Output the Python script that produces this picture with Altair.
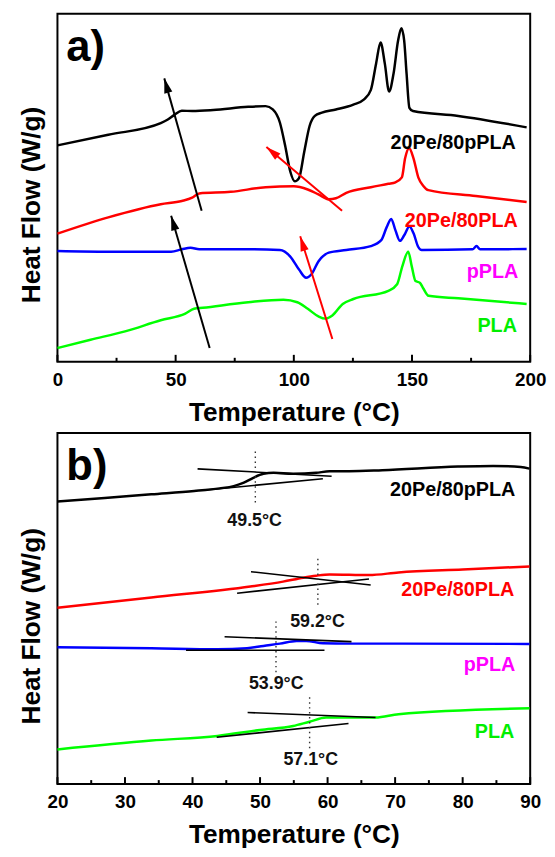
import math
import altair as alt
import pandas as pd

W = 478
HA = 352
HB = 355
FONT = "Liberation Sans"

# ---------------- Panel a: full DSC curves (0-200 C) ----------------
a_t_black = [0, 21.5, 43.7, 46.7, 49.6, 52.6, 57, 65.9, 80.7, 88.1, 91.1, 94.1, 96.3, 98.5, 100.4,
             102.2, 104.4, 106.7, 108.9, 111.9, 117.8, 125.2, 129.6, 132.6, 134.8, 136.7, 138.5,
             140.3, 142.2, 144.1, 145.5, 146.7, 147.7, 148.9, 150.4, 169.6, 198.5]
a_h_black = [220.7, 231.5, 243.3, 247, 252, 256, 255.7, 256.7, 260, 260.7, 257.3, 244, 220.7, 194, 184,
             187.3, 214, 240.7, 250.7, 254, 257.3, 262.3, 267.3, 277.3, 304, 325.7, 304,
             275.7, 294, 327.3, 340, 327.3, 294, 259, 255.7, 250.7, 239]

a_t_red = [0, 21.5, 43.7, 52.6, 57, 60, 73.3, 88.1, 100, 105.9, 110.4, 114.8, 117.8, 122.2, 132.6,
           140, 143, 145.7, 147.1, 148.8, 150.6, 152.7, 154.8, 156.9, 177, 198.5]
a_h_red = [130.7, 147.3, 160.7, 164, 167.3, 171.7, 173.3, 178, 179, 175.7, 170.7, 165.7, 166.7, 172.3, 178,
           181.5, 183, 188, 207.7, 217.7, 207.7, 187.7, 179.3, 175, 169, 163]

a_t_blue = [0, 21.5, 48.1, 52.6, 56.3, 60, 80.7, 94.1, 98.5, 102.2, 105.2, 107.4, 110.4, 114.8, 122.2,
            132.6, 137, 139.3, 141.2, 143, 144.9, 146.7, 148.9, 150.7, 152.6, 154.1, 175.6, 177.3,
            178.8, 198.5]
a_h_blue = [113, 112.3, 112.3, 114.7, 116.3, 114.7, 114.7, 114, 107.3, 94, 85.7, 89, 102.3, 111.3, 114,
            118, 124, 137.3, 145.7, 134, 123.3, 129, 138, 130.7, 117.3, 114, 114.7, 118,
            114.7, 115]

a_t_green = [0, 14, 28.6, 43.7, 54.1, 57.8, 61.5, 80.7, 95.6, 101.5, 105.9, 110.4, 113.3, 116.3, 120.7,
             125.2, 140, 143.7, 145.9, 148.4, 149.9, 151.5, 153.3, 154.8, 157, 169.6, 198.5]
a_h_green = [14, 22.5, 31, 42.3, 49, 54, 55, 60.7, 63.3, 60.7, 54, 46.3, 44, 47.3, 59,
             64, 72.3, 79, 97.3, 112.3, 97.3, 82.3, 80.7, 74.7, 67.3, 64.7, 59]

# arrows (tail T, tail h, head T, head h, colour)
arrow_t0 = [61.0, 64.4, 120.4, 116.3]
arrow_h0 = [154, 14, 154, 23.3]
arrow_t1 = [45.2, 48.1, 88.4, 102.7]
arrow_h1 = [289, 149, 219, 128]
arrow_col = ["#000000", "#000000", "#ff0000", "#ff0000"]

a_lab_text = ["20Pe/80pPLA", "20Pe/80PLA", "pPLA", "PLA"]
a_lab_t = [193.9, 194.8, 195.0, 194.4]
a_lab_h = [216.7, 137, 85.5, 30.5]
lab_col = ["#000000", "#ff0000", "#ff00ff", "#00ee00"]

a_major = [0, 50, 100, 150, 200]
a_minor = [25, 75, 125, 175]

# ---------------- Panel b: Tg region (20-90 C) ----------------
b_t_black = [20, 27, 33.9, 40.25, 44, 46.1, 47.6, 49, 50.5, 52, 54.9, 58.3, 60.3, 63.2, 68.1, 79.3, 84.5, 88.6, 89.9]
b_h_black = [285.7, 289.3, 293, 296.3, 299, 301.3, 304.7, 309.7, 313.7, 314.7, 313.7, 314.7, 316.3, 316.3, 317.3, 321, 321.7, 320.7, 319]

b_t_red = [20, 33.9, 48.56, 53.4, 56.4, 58.3, 60.3, 66.1, 70.5, 80, 89.9]
b_h_red = [178.3, 188.7, 199.7, 204.7, 208.7, 210.7, 212, 211.3, 214, 217, 220]

b_t_blue = [20, 33.9, 43.67, 48.07, 50.5, 52.95, 55.4, 56.85, 59.3, 63.2, 70.5, 89.9]
b_h_blue = [138.3, 137.3, 136.3, 137.3, 139.7, 142, 144.7, 144.7, 142.3, 142, 142, 141.7]

b_t_green = [20, 33.9, 43.7, 50, 54.9, 57.3, 59.8, 63.2, 67.1, 70.5, 89.9]
b_h_green = [35, 44, 48.7, 54.7, 58.7, 63, 67.3, 67.3, 67.3, 70.7, 76.7]

# tangent construction lines
tan_t0 = [40.75, 42.0, 48.66, 46.6, 44.75, 39.04, 48.16, 43.58]
tan_h0 = [318.7, 297.3, 214.7, 193.0, 149.0, 135.3, 72.3, 47.3]
tan_t1 = [60.6, 59.3, 66.38, 66.13, 63.54, 59.54, 67.1, 63.1]
tan_h1 = [311.3, 308.7, 201.3, 207.3, 144.0, 135.3, 67.3, 61.3]

# dotted Tg markers
tg_t = [49.3, 58.56, 52.36, 57.34]
tg_h0 = [284.7, 181.3, 113, 36.3]
tg_h1 = [336.3, 231.3, 164.7, 89.7]

tg_text = ["49.5°C", "59.2°C", "53.9°C", "57.1°C"]
tg_lab_t = [49.2, 58.5, 52.4, 57.5]
tg_lab_h = [261.3, 158.7, 96.3, 19.7]

b_lab_t = [87.8, 87.65, 87.8, 87.65]
b_lab_h = [291.3, 189.7, 114.7, 46.3]

b_major = [20, 30, 40, 50, 60, 70, 80, 90]
b_minor = [25, 35, 45, 55, 65, 75, 85]

series_names = ["20Pe/80pPLA", "20Pe/80PLA", "pPLA", "PLA"]
series_cols = ["#000000", "#ff0000", "#0000ff", "#00ff00"]


def curves_df(ts, hs):
    rows = []
    for name, t, h in zip(series_names, ts, hs):
        for i, (x, y) in enumerate(zip(t, h)):
            rows.append({"T": x, "H": y, "s": name, "i": i})
    return pd.DataFrame(rows)


def panel(xdom, height, ts, hs, lab_t, lab_h, major, minor, letter, title_y):
    xs = alt.Scale(domain=xdom, nice=False, zero=False)
    ys = alt.Scale(domain=[0, 355], nice=False, zero=False)
    xaxis = alt.Axis(values=major, format="d", title="Temperature (°C)", grid=False,
                     domain=False, ticks=False, tickSize=0, labelFont=FONT, labelFontSize=19,
                     labelFontWeight="bold", labelColor="black", labelPadding=9,
                     labelBaseline="top", labelFlush=False, labelOverlap=False,
                     titleFont=FONT, titleFontSize=26.5,
                     titleFontWeight="bold", titleColor="black", titleY=59,
                     titleBaseline="alphabetic")
    yaxis = alt.Axis(labels=False, ticks=False, domain=False, grid=False,
                     title="Heat Flow (W/g)", titleFont=FONT, titleFontSize=26.5,
                     titleFontWeight="bold", titleColor="black", titleAngle=270,
                     titleX=-18.3, titleY=title_y, titleBaseline="alphabetic",
                     titleAlign="center")
    cdf = curves_df(ts, hs)
    lines = alt.Chart(cdf).mark_line(strokeWidth=2.5, interpolate="monotone", strokeJoin="round").encode(
        x=alt.X("T:Q", scale=xs, axis=xaxis),
        y=alt.Y("H:Q", scale=ys, axis=yaxis),
        color=alt.Color("s:N", scale=alt.Scale(domain=series_names, range=series_cols), legend=None),
        order="i:Q",
    )
    ldf = pd.DataFrame({"T": lab_t, "H": lab_h, "txt": series_names, "c": lab_col})
    labels = alt.Chart(ldf).mark_text(font=FONT, fontSize=20, fontWeight="bold", align="right",
                                      baseline="alphabetic").encode(
        x="T:Q", y="H:Q", text="txt:N", color=alt.Color("c:N", scale=None))
    tkM = alt.Chart(pd.DataFrame({"T": major})).mark_rule(color="black", strokeWidth=2).encode(
        x="T:Q", y=alt.value(height), y2=alt.value(height - 7))
    tkm = alt.Chart(pd.DataFrame({"T": minor})).mark_rule(color="black", strokeWidth=2).encode(
        x="T:Q", y=alt.value(height), y2=alt.value(height - 4))
    let = alt.Chart(pd.DataFrame({"l": [letter]})).mark_text(
        font=FONT, fontSize=44, fontWeight="bold", align="left", baseline="alphabetic",
        color="black").encode(x=alt.value(9), y=alt.value(48), text="l:N")
    return [lines, labels, tkM, tkm, let]


# ---- panel a ----
la = panel([0, 200], HA, [a_t_black, a_t_red, a_t_blue, a_t_green],
           [a_h_black, a_h_red, a_h_blue, a_h_green], a_lab_t, a_lab_h, a_major, a_minor, "a)", 193)

angles = []
for t0, h0, t1, h1 in zip(arrow_t0, arrow_h0, arrow_t1, arrow_h1):
    dx = (t1 - t0) * W / 200.0
    dy = (h1 - h0) * HA / 355.0
    angles.append(math.degrees(math.atan2(dx, dy)) % 360)
adf = pd.DataFrame({"t0": arrow_t0, "h0": arrow_h0, "t1": arrow_t1, "h1": arrow_h1,
                    "c": arrow_col, "ang": angles})
arrow_lines = alt.Chart(adf).mark_rule(strokeWidth=2).encode(
    x="t0:Q", y="h0:Q", x2="t1:Q", y2="h1:Q", color=alt.Color("c:N", scale=None))
arrow_heads = alt.Chart(adf).mark_point(shape="M0,0L-0.28,1L0.28,1Z", filled=True, size=900,
                                        opacity=1, strokeWidth=0).encode(
    x="t1:Q", y="h1:Q", angle=alt.Angle("ang:Q", scale=None), color=alt.Color("c:N", scale=None))

chart_a = alt.layer(la[0], arrow_lines, arrow_heads, *la[1:]).properties(width=W, height=HA)

# ---- panel b ----
lb = panel([20, 90], HB, [b_t_black, b_t_red, b_t_blue, b_t_green],
           [b_h_black, b_h_red, b_h_blue, b_h_green], b_lab_t, b_lab_h, b_major, b_minor, "b)", 195)
tdf = pd.DataFrame({"t0": tan_t0, "h0": tan_h0, "t1": tan_t1, "h1": tan_h1})
tangents = alt.Chart(tdf).mark_rule(strokeWidth=1.6, color="black").encode(
    x="t0:Q", y="h0:Q", x2="t1:Q", y2="h1:Q")
gdf = pd.DataFrame({"t": tg_t, "h0": tg_h0, "h1": tg_h1})
dots = alt.Chart(gdf).mark_rule(strokeWidth=1.4, color="#333333", strokeDash=[1.5, 3.5]).encode(
    x="t:Q", y="h0:Q", y2="h1:Q")
tgl = pd.DataFrame({"t": tg_lab_t, "h": tg_lab_h, "txt": tg_text})
tg_labels = alt.Chart(tgl).mark_text(font=FONT, fontSize=18, fontWeight="bold", align="center",
                                     baseline="alphabetic", color="#111111").encode(
    x="t:Q", y="h:Q", text="txt:N")

chart_b = alt.layer(lb[0], tangents, dots, tg_labels, *lb[1:]).properties(width=W, height=HB)

chart = alt.vconcat(chart_a, chart_b, spacing=72, bounds="flush").properties(
    padding={"left": 9, "top": 0, "right": 0, "bottom": 0}
).configure(font=FONT).configure_view(stroke="black", strokeWidth=2)

chart.save("out.html", embed_options={"renderer": "svg", "actions": False})
